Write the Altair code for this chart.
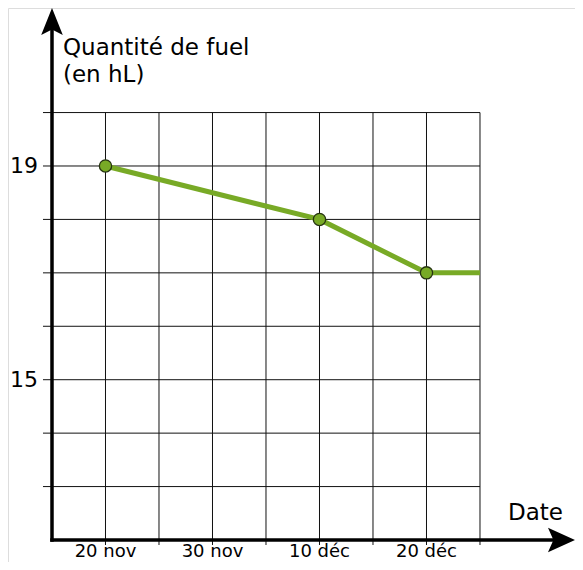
import altair as alt
import pandas as pd

# Data (x = days since 15 nov, y = hL)
series_days = [5, 25, 35, 40]
series_vals = [19, 18, 17, 17]
point_days = [5, 25, 35]
point_vals = [19, 18, 17]

grid_x = [5, 10, 15, 20, 25, 30, 35, 40]
grid_y = [13, 14, 15, 16, 17, 18, 19, 20]
x_label_pos = [5, 15, 25, 35]
x_labels = ["20 nov", "30 nov", "10 déc", "20 déc"]
y_label_pos = [19, 15]
y_labels = ["19", "15"]
y_title = ["Quantité de fuel", "(en hL)"]
x_title = "Date"

# scale extents (axis origin at 0 days / 12 hL)
X_DOM = [-4.112, 48.879]
Y_DOM = [11.5882, 21.957]
x_axis_end = 47.617
y_axis_end = 21.704

FONT = "DejaVu Sans"
GREEN = "#78aa26"

xs = alt.Scale(domain=X_DOM, nice=False, zero=False)
ys = alt.Scale(domain=Y_DOM, nice=False, zero=False)

def X(f="x"):
    return alt.X(f"{f}:Q", scale=xs, axis=None)

def Y(f="y"):
    return alt.Y(f"{f}:Q", scale=ys, axis=None)

hgrid = alt.Chart(pd.DataFrame({"y": grid_y, "x": [0] * len(grid_y), "x2": [40] * len(grid_y)})).mark_rule(
    color="#111", strokeWidth=1, xOffset=-9
).encode(x=X(), x2="x2:Q", y=Y())

vgrid = alt.Chart(pd.DataFrame({"x": grid_x, "y": [12] * len(grid_x), "y2": [20] * len(grid_x)})).mark_rule(
    color="#111", strokeWidth=1, yOffset=5
).encode(x=X(), y=Y(), y2="y2:Q")

xaxis = alt.Chart(pd.DataFrame({"x": [0], "x2": [x_axis_end], "y": [12]})).mark_rule(
    color="black", strokeWidth=3.5, strokeCap="square"
).encode(x=X(), x2="x2:Q", y=Y())

yaxis = alt.Chart(pd.DataFrame({"x": [0], "y": [12], "y2": [y_axis_end]})).mark_rule(
    color="black", strokeWidth=3.5, strokeCap="square"
).encode(x=X(), y=Y(), y2="y2:Q")

up_arrow = alt.Chart(pd.DataFrame({"x": [0], "y": [y_axis_end]})).mark_point(
    shape="M0,-1L0.8,1L0,0.6L-0.8,1Z", size=729, filled=True, color="black", opacity=1, strokeWidth=0
).encode(x=X(), y=Y())

right_arrow = alt.Chart(pd.DataFrame({"x": [x_axis_end], "y": [12]})).mark_point(
    shape="M1,0L-1,0.9L-0.6,0L-1,-0.9Z", size=729, filled=True, color="black", opacity=1, strokeWidth=0
).encode(x=X(), y=Y())

line = alt.Chart(pd.DataFrame({"x": series_days, "y": series_vals})).mark_line(
    color=GREEN, strokeWidth=5
).encode(x=X(), y=Y())

points = alt.Chart(pd.DataFrame({"x": point_days, "y": point_vals})).mark_point(
    shape="circle", size=150, filled=True, fill=GREEN, stroke="#263312", strokeWidth=1.3, opacity=1
).encode(x=X(), y=Y())

xlab = alt.Chart(pd.DataFrame({"x": x_label_pos, "y": [12] * 4, "t": x_labels})).mark_text(
    font=FONT, fontSize=18, align="center", baseline="alphabetic", dy=17, color="black"
).encode(x=X(), y=Y(), text="t:N")

ylab = alt.Chart(pd.DataFrame({"x": [0, 0], "y": y_label_pos, "t": y_labels})).mark_text(
    font=FONT, fontSize=22, align="right", baseline="middle", dx=-14, color="black"
).encode(x=X(), y=Y(), text="t:N")

ytitle1 = alt.Chart(pd.DataFrame({"x": [0], "y": [20], "t": [y_title[0]]})).mark_text(
    font=FONT, fontSize=23, align="left", baseline="alphabetic", dx=11, dy=-58, color="black"
).encode(x=X(), y=Y(), text="t:N")

ytitle2 = alt.Chart(pd.DataFrame({"x": [0], "y": [20], "t": [y_title[1]]})).mark_text(
    font=FONT, fontSize=23, align="left", baseline="alphabetic", dx=11, dy=-31, color="black"
).encode(x=X(), y=Y(), text="t:N")

xtitle = alt.Chart(pd.DataFrame({"x": [40], "y": [12], "t": [x_title]})).mark_text(
    font=FONT, fontSize=23, align="left", baseline="alphabetic", dx=28, dy=-20, color="black"
).encode(x=X(), y=Y(), text="t:N")

chart = alt.layer(
    hgrid, vgrid, xaxis, yaxis, up_arrow, right_arrow, line, points,
    xlab, ylab, ytitle1, ytitle2, xtitle
).properties(
    width=567, height=554, padding=0, autosize=alt.AutoSizeParams(type="none")
).configure_view(stroke=None, clip=False).configure(background="white")

chart.save("out.html", embed_options={"renderer": "svg", "actions": False})
